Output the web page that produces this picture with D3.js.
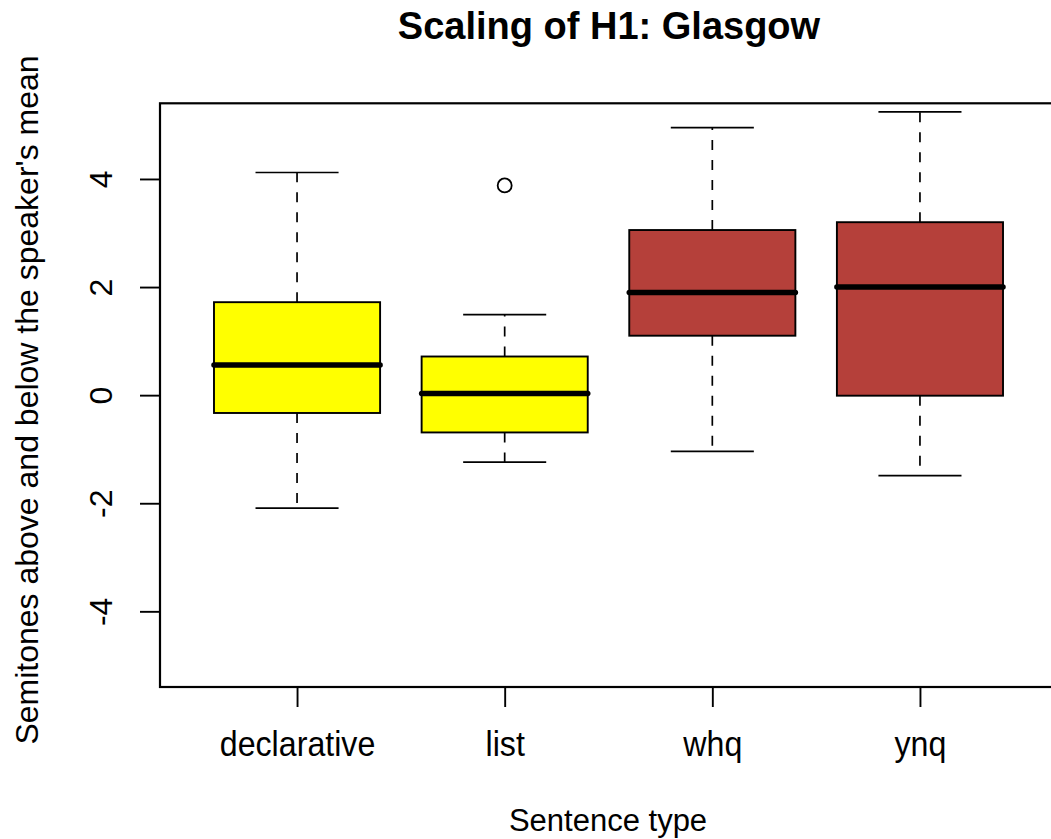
<!DOCTYPE html>
<html>
<head>
<meta charset="utf-8">
<script src="https://cdn.jsdelivr.net/npm/d3@7"></script>
<style>
  html, body { margin: 0; padding: 0; background: #ffffff; }
  svg { display: block; }
  text { font-family: "Liberation Sans", Arial, Helvetica, sans-serif; fill: #000; }
</style>
</head>
<body>
<svg id="chart" width="1051" height="839"></svg>
<script>
// ---- data ----
const categories = ["declarative", "list", "whq", "ynq"];
const lowerWhisker = [-2.09, -1.24, -1.04, -1.49];
const q1 = [-0.33, -0.69, 1.10, -0.01];
const median = [0.56, 0.03, 1.90, 2.00];
const q3 = [1.72, 0.715, 3.055, 3.20];
const upperWhisker = [4.12, 1.49, 4.95, 5.24];
const outlierCategory = ["list"];
const outlierValue = [3.88];
const yTicks = [-4, -2, 0, 2, 4];
const yLimits = [-5, 5];
const title = "Scaling of H1: Glasgow";
const xTitle = "Sentence type";
const yTitle = "Semitones above and below the speaker's mean";

// ---- styling / layout ----
const fillColor = d3.scaleOrdinal().domain(categories).range(["#FFFF00", "#FFFF00", "#B5403A", "#B5403A"]);
const plot = { left: 160, right: 1057, top: 103.3, bottom: 687 };
const boxWidth = 0.8, capWidth = 0.4;

const svg = d3.select("#chart");

// R-style 4% axis extension
const xDom = [0.5, categories.length + 0.5];
const xExt = (xDom[1] - xDom[0]) * 0.04;
const x = d3.scaleLinear().domain([xDom[0] - xExt, xDom[1] + xExt]).range([plot.left, plot.right]);
const yExt = (yLimits[1] - yLimits[0]) * 0.04;
const y = d3.scaleLinear().domain([yLimits[0] - yExt, yLimits[1] + yExt]).range([plot.bottom, plot.top]);

const stats = categories.map((c, i) => ({
  cat: c, pos: i + 1,
  lo: lowerWhisker[i], q1: q1[i], med: median[i], q3: q3[i], hi: upperWhisker[i]
}));

const g = svg.append("g");

// whiskers (dashed)
g.selectAll(".whisk-up").data(stats).enter().append("line")
  .attr("x1", d => x(d.pos)).attr("x2", d => x(d.pos))
  .attr("y1", d => y(d.q3)).attr("y2", d => y(d.hi))
  .attr("stroke", "#000").attr("stroke-width", 1.7).attr("stroke-dasharray", "10 10");
g.selectAll(".whisk-dn").data(stats).enter().append("line")
  .attr("x1", d => x(d.pos)).attr("x2", d => x(d.pos))
  .attr("y1", d => y(d.q1)).attr("y2", d => y(d.lo))
  .attr("stroke", "#000").attr("stroke-width", 1.7).attr("stroke-dasharray", "10 10");

// whisker caps
["hi", "lo"].forEach(k => {
  g.selectAll(".cap-" + k).data(stats).enter().append("line")
    .attr("x1", d => x(d.pos - capWidth / 2)).attr("x2", d => x(d.pos + capWidth / 2))
    .attr("y1", d => y(d[k])).attr("y2", d => y(d[k]))
    .attr("stroke", "#000").attr("stroke-width", 1.7);
});

// boxes
g.selectAll(".box").data(stats).enter().append("rect")
  .attr("x", d => x(d.pos - boxWidth / 2))
  .attr("width", d => x(d.pos + boxWidth / 2) - x(d.pos - boxWidth / 2))
  .attr("y", d => y(d.q3))
  .attr("height", d => y(d.q1) - y(d.q3))
  .attr("fill", d => fillColor(d.cat))
  .attr("stroke", "#000").attr("stroke-width", 1.9);

// medians
g.selectAll(".med").data(stats).enter().append("line")
  .attr("x1", d => x(d.pos - boxWidth / 2)).attr("x2", d => x(d.pos + boxWidth / 2))
  .attr("y1", d => y(d.med)).attr("y2", d => y(d.med))
  .attr("stroke", "#000").attr("stroke-width", 5.5).attr("stroke-linecap", "round");

// outliers
g.selectAll(".out").data(outlierValue).enter().append("circle")
  .attr("cx", (d, i) => x(categories.indexOf(outlierCategory[i]) + 1))
  .attr("cy", d => y(d))
  .attr("r", 7)
  .attr("fill", "none").attr("stroke", "#000").attr("stroke-width", 1.8);

// frame
svg.append("rect")
  .attr("x", plot.left).attr("y", plot.top)
  .attr("width", plot.right - plot.left).attr("height", plot.bottom - plot.top)
  .attr("fill", "none").attr("stroke", "#000").attr("stroke-width", 2.2);

// y axis
const yAxis = d3.axisLeft(y).tickValues(yTicks).tickSize(20).tickFormat(d3.format("d"));
const ya = svg.append("g").attr("transform", `translate(${plot.left},0)`).call(yAxis);
ya.select(".domain").remove();
ya.selectAll(".tick line").attr("stroke", "#000").attr("stroke-width", 1.9);
ya.selectAll(".tick text")
  .attr("x", 0).attr("y", -48).attr("dy", null)
  .attr("transform", "rotate(-90)")
  .attr("text-anchor", "middle")
  .style("font-size", "32px")
  .style("font-family", "'Liberation Sans', Arial, sans-serif")
  .text(d => d3.format("d")(d).replace("−", "-"));

// x axis
const xAxis = d3.axisBottom(x).tickValues(categories.map((c, i) => i + 1)).tickSize(20)
  .tickFormat((d) => categories[d - 1]);
const xa = svg.append("g").attr("transform", `translate(0,${plot.bottom})`).call(xAxis);
xa.select(".domain").remove();
xa.selectAll(".tick line").attr("stroke", "#000").attr("stroke-width", 1.9);
xa.selectAll(".tick text")
  .attr("y", 0).attr("dy", null)
  .attr("transform", "translate(0,69) scale(0.92,1)")
  .attr("text-anchor", "middle")
  .style("font-size", "35px")
  .style("font-family", "'Liberation Sans', Arial, sans-serif");

// titles
svg.append("text")
  .attr("x", 609).attr("y", 39)
  .attr("text-anchor", "middle")
  .style("font-size", "38px").style("font-weight", "bold")
  .text(title);

svg.append("text")
  .attr("transform", "translate(608,831)")
  .attr("text-anchor", "middle")
  .style("font-size", "31px")
  .text(xTitle);

svg.append("text")
  .attr("transform", "translate(38,400) rotate(-90)")
  .attr("text-anchor", "middle")
  .style("font-size", "32px")
  .text(yTitle);
</script>
</body>
</html>
